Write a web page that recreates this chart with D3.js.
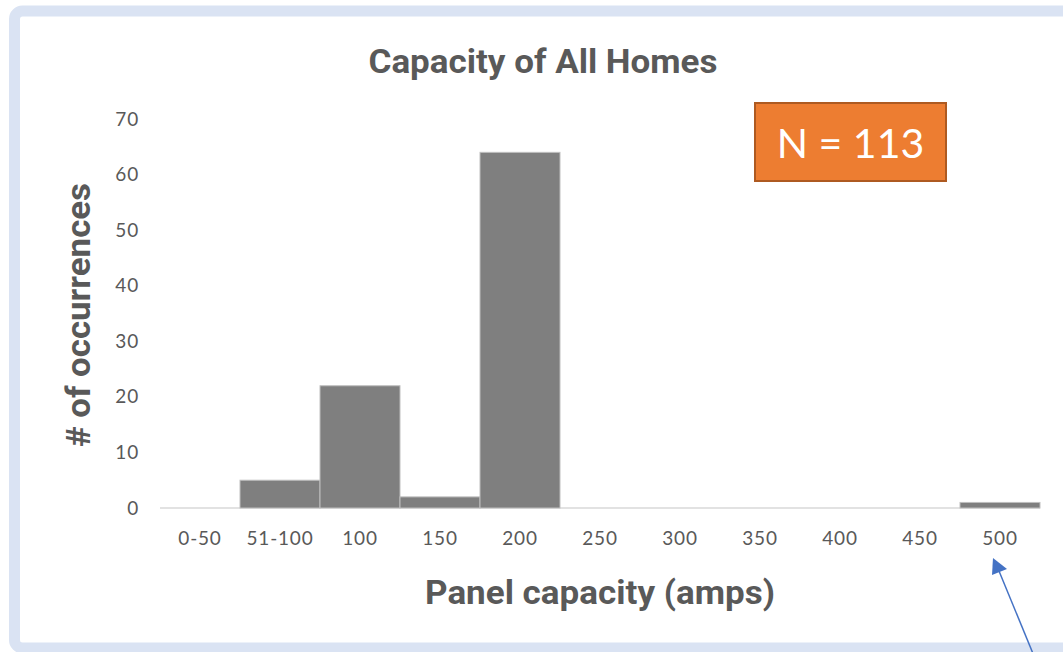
<!DOCTYPE html>
<html>
<head>
<meta charset="utf-8">
<script src="https://cdn.jsdelivr.net/npm/d3@7"></script>
<style>
  html, body { margin: 0; padding: 0; background: #fff; }
  svg { display: block; }
</style>
</head>
<body>
<svg id="chart" width="1063" height="652"></svg>
<script>
const categories = ["0-50","51-100","100","150","200","250","300","350","400","450","500"];
const counts = [0, 5, 22, 2, 64, 0, 0, 0, 0, 0, 1];
const yTicks = [0, 10, 20, 30, 40, 50, 60, 70];
const titleText = "Capacity of All Homes";
const xTitle = "Panel capacity (amps)";
const yTitle = "# of occurrences";
const noteText = "N = 113";

const svg = d3.select("#chart");
const W = 1063, H = 652;
const textColor = "#595959";
const tickFont = "Lato, 'Open Sans', sans-serif";
const titleFont = "Roboto, 'Open Sans', sans-serif";

svg.append("rect").attr("x", 0).attr("y", 0).attr("width", W).attr("height", H).attr("fill", "#fff");

// frame
svg.append("rect")
  .attr("x", 14.5).attr("y", 11).attr("width", 1100).attr("height", 637)
  .attr("rx", 8).attr("fill", "none")
  .attr("stroke", "#dae3f3").attr("stroke-width", 11);

const x = d3.scaleBand().domain(categories).range([160, 1040]).padding(0);
const y = d3.scaleLinear().domain([0, 70]).range([508, 119]);

// baseline
svg.append("line")
  .attr("x1", 160).attr("x2", 1040).attr("y1", y(0)).attr("y2", y(0))
  .attr("stroke", "#d9d9d9").attr("stroke-width", 1.5);

// bars
svg.append("g").selectAll("rect").data(categories.map((c, i) => ({c, v: counts[i]})).filter(d => d.v > 0))
  .join("rect")
  .attr("x", d => x(d.c))
  .attr("y", d => y(d.v))
  .attr("width", x.bandwidth())
  .attr("height", d => y(0) - y(d.v))
  .attr("fill", "#7f7f7f")
  .attr("stroke", "#bfbfbf")
  .attr("stroke-width", 1);

// y axis
const yAxis = svg.append("g")
  .attr("transform", "translate(148,0)")
  .call(d3.axisLeft(y).tickValues(yTicks).tickSize(0).tickPadding(9));
yAxis.select(".domain").remove();
yAxis.selectAll("text")
  .attr("fill", textColor).attr("font-family", tickFont).attr("font-size", 19)
  .attr("letter-spacing", 0.8);

// x axis
const xAxis = svg.append("g")
  .attr("transform", `translate(0,${y(0)})`)
  .call(d3.axisBottom(x).tickSize(0).tickPadding(24));
xAxis.select(".domain").remove();
xAxis.selectAll("text")
  .attr("fill", textColor).attr("font-family", tickFont).attr("font-size", 19)
  .attr("letter-spacing", 0.8);

function boldTitle(sel, len) {
  return sel.attr("text-anchor", "middle")
    .attr("font-family", titleFont).attr("font-weight", "bold").attr("font-size", 33)
    .attr("fill", textColor)
    .attr("textLength", len).attr("lengthAdjust", "spacingAndGlyphs");
}

// title
boldTitle(svg.append("text").attr("x", 543).attr("y", 73), 349).text(titleText);

// x title
boldTitle(svg.append("text").attr("x", 600).attr("y", 604), 350).text(xTitle);

// y title
boldTitle(svg.append("text").attr("transform", "translate(90,315) rotate(-90)"), 264).text(yTitle);

// N box
svg.append("rect")
  .attr("x", 755).attr("y", 103).attr("width", 191).attr("height", 78)
  .attr("fill", "#ed7d31").attr("stroke", "#ae5a21").attr("stroke-width", 2);
svg.append("text")
  .attr("x", 850.5).attr("y", 158)
  .attr("text-anchor", "middle")
  .attr("font-family", tickFont).attr("font-size", 41)
  .attr("fill", "#fff")
  .text(noteText);

// arrow annotation
svg.append("line")
  .attr("x1", 1034).attr("y1", 656).attr("x2", 999).attr("y2", 571)
  .attr("stroke", "#4472c4").attr("stroke-width", 1.5);
svg.append("polygon")
  .attr("points", "993,558 1007,569 992,575")
  .attr("fill", "#4472c4");
</script>
</body>
</html>
